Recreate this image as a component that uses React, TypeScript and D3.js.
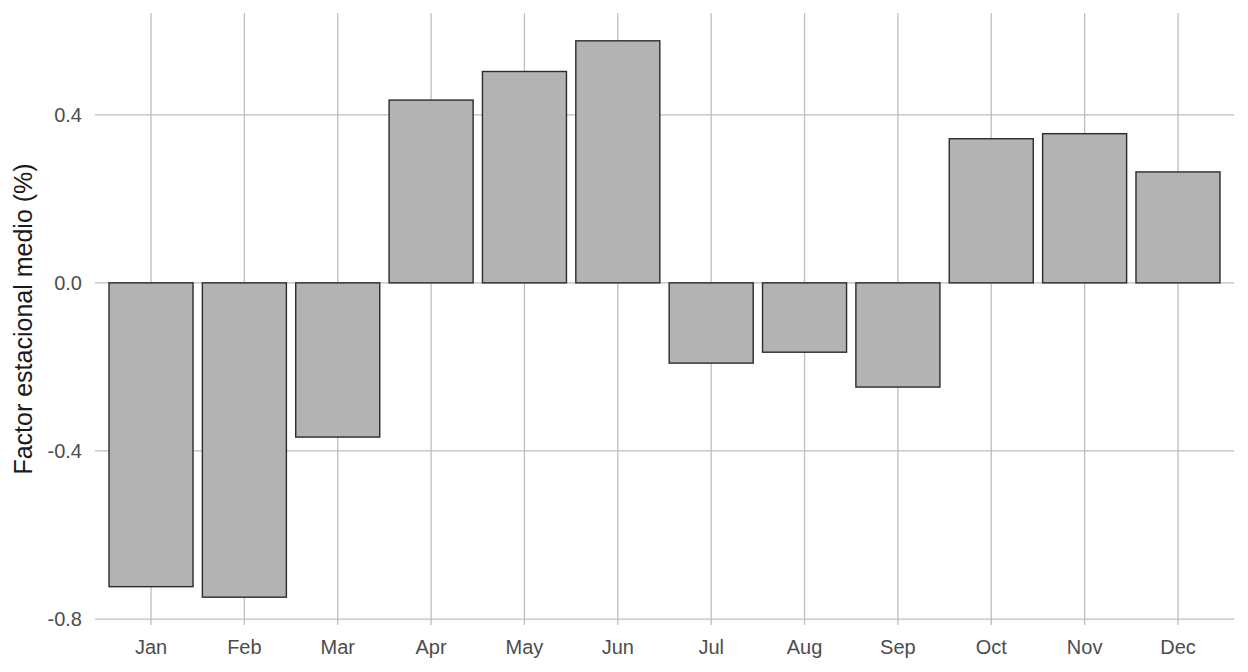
import React from "react";
import * as d3 from "d3";

const months = ["Jan", "Feb", "Mar", "Apr", "May", "Jun", "Jul", "Aug", "Sep", "Oct", "Nov", "Dec"];
const factors = [-0.723, -0.748, -0.367, 0.435, 0.503, 0.576, -0.191, -0.165, -0.248, 0.343, 0.355, 0.264];
const yTicks = [-0.8, -0.4, 0.0, 0.4];
const yTitle = "Factor estacional medio (%)";

const W = 1248;
const H = 672;
const left = 95;
const right = 1234;
const top = 13;
const bottom = 625;
const font = "'Liberation Sans', Arial, Helvetica, sans-serif";

export default function App() {
  const minV = d3.min(factors)!;
  const maxV = d3.max(factors)!;
  const range = maxV - minV;
  const y = d3.scaleLinear().domain([minV - 0.05 * range, maxV + 0.05 * range]).range([bottom, top]);
  const unit = (right - left) / (months.length + 0.2);
  const x = d3
    .scalePoint<string>()
    .domain(months)
    .range([left + 0.6 * unit, right - 0.6 * unit]);
  const bw = 0.9 * unit;
  const fmt = (t: number) => d3.format(".1f")(t).replace("\u2212", "-");

  return (
    <svg width={W} height={H} style={{ position: "absolute", left: 0, top: 0, background: "#fff" }}>
      <g>
        {yTicks.map((t) => (
          <line key={"hy" + t} x1={left} x2={right} y1={y(t)} y2={y(t)} stroke="#bebebe" strokeWidth={1.3} />
        ))}
        {months.map((m) => (
          <line key={"vx" + m} x1={x(m)} x2={x(m)} y1={top} y2={bottom} stroke="#bebebe" strokeWidth={1.3} />
        ))}
      </g>
      <g>
        {months.map((m, i) => {
          const v = factors[i];
          const y0 = y(Math.max(0, v));
          const y1 = y(Math.min(0, v));
          return (
            <rect
              key={"b" + m}
              x={x(m)! - bw / 2}
              y={y0}
              width={bw}
              height={y1 - y0}
              fill="#b3b3b3"
              stroke="#2b2b2b"
              strokeWidth={1.4}
            />
          );
        })}
      </g>
      <g fontFamily={font} fontSize={20} fill="#4d4d4d">
        {yTicks.map((t) => (
          <text key={"ty" + t} x={82} y={y(t)} dy="0.36em" textAnchor="end">
            {fmt(t)}
          </text>
        ))}
        {months.map((m) => (
          <text key={"tx" + m} x={x(m)} y={654} textAnchor="middle">
            {m}
          </text>
        ))}
      </g>
      <text
        fontFamily={font}
        fontSize={25}
        fill="#1a1a1a"
        textAnchor="middle"
        transform={`translate(32, ${(top + bottom) / 2}) rotate(-90)`}
      >
        {yTitle}
      </text>
    </svg>
  );
}
